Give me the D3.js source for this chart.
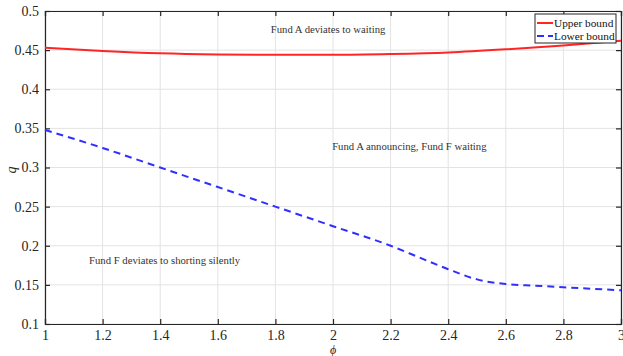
<!DOCTYPE html>
<html>
<head>
<meta charset="utf-8">
<script src="https://cdn.jsdelivr.net/npm/d3@7.9.0/dist/d3.min.js"></script>
<style>
  body { margin: 0; background: #fff; }
  svg text { font-family: "Liberation Serif", "Times New Roman", Times, "DejaVu Serif", serif !important; }
</style>
</head>
<body>
<svg id="chart" width="623" height="356"></svg>
<script>
const phiUpper = [1, 1.2, 1.4, 1.6, 1.8, 2.0, 2.2, 2.4, 2.6, 2.8, 3.0];
const upperBound = [0.453, 0.449, 0.446, 0.4445, 0.444, 0.444, 0.445, 0.447, 0.451, 0.456, 0.462];
const phiLower = [1, 1.2, 1.4, 1.6, 1.8, 2.0, 2.2, 2.3, 2.4, 2.5, 2.6, 2.7, 2.8, 2.9, 3.0];
const lowerBound = [0.348, 0.325, 0.30, 0.275, 0.25, 0.225, 0.2, 0.185, 0.170, 0.157, 0.151, 0.149, 0.147, 0.145, 0.143];
const xTicks = [1, 1.2, 1.4, 1.6, 1.8, 2, 2.2, 2.4, 2.6, 2.8, 3];
const yTicks = [0.1, 0.15, 0.2, 0.25, 0.3, 0.35, 0.4, 0.45, 0.5];
const regionLabels = [
  { text: "Fund A deviates to waiting", phi: 1.983, q: 0.4713, anchor: "middle" },
  { text: "Fund A announcing, Fund F waiting", phi: 1.997, q: 0.3224, anchor: "start" },
  { text: "Fund F deviates to shorting silently", phi: 1.153, q: 0.1767, anchor: "start" }
];

const svg = d3.select('#chart');
const padL = 45, padR = 621, padT = 11, padB = 324;
const x = d3.scaleLinear().domain([1, 3]).range([padL, padR]);
const y = d3.scaleLinear().domain([0.1, 0.5]).range([padB, padT]);
const axisColor = '#262626';

// grid
svg.append('g').selectAll('line').data(xTicks).join('line')
  .attr('x1', d => x(d)).attr('x2', d => x(d))
  .attr('y1', padT).attr('y2', padB)
  .attr('stroke', '#e3e3e3').attr('stroke-width', 1);
svg.append('g').selectAll('line').data(yTicks).join('line')
  .attr('x1', padL).attr('x2', padR)
  .attr('y1', d => y(d)).attr('y2', d => y(d))
  .attr('stroke', '#e3e3e3').attr('stroke-width', 1);

// axes (ticks inward, box on)
let xAxis = svg.append('g').attr('transform', `translate(0,${padB})`)
  .call(d3.axisBottom(x).tickValues(xTicks).tickSize(-5).tickPadding(6).tickFormat(d3.format('')));
let xTop = svg.append('g').attr('transform', `translate(0,${padT})`)
  .call(d3.axisTop(x).tickValues(xTicks).tickSize(-5).tickFormat(''));
let yAxis = svg.append('g').attr('transform', `translate(${padL},0)`)
  .call(d3.axisLeft(y).tickValues(yTicks).tickSize(-5).tickPadding(6).tickFormat(d3.format('')));
let yRight = svg.append('g').attr('transform', `translate(${padR},0)`)
  .call(d3.axisRight(y).tickValues(yTicks).tickSize(-5).tickFormat(''));
[xAxis, xTop, yAxis, yRight].forEach(g => {
  g.attr('font-family', null);
  g.select('.domain').attr('stroke', axisColor).attr('stroke-width', 1.2);
  g.selectAll('.tick line').attr('stroke', axisColor).attr('stroke-width', 1.2);
  g.selectAll('.tick text').attr('fill', axisColor).style('font-size', '14px');
});

// lines
const lineGen = d3.line().x(d => x(d[0])).y(d => y(d[1])).curve(d3.curveMonotoneX);
svg.append('path')
  .datum(d3.zip(phiUpper, upperBound))
  .attr('d', lineGen).attr('fill', 'none')
  .attr('stroke', '#ff2525').attr('stroke-width', 2);
svg.append('path')
  .datum(d3.zip(phiLower, lowerBound))
  .attr('d', lineGen).attr('fill', 'none')
  .attr('stroke', '#2f2fff').attr('stroke-width', 2)
  .attr('stroke-dasharray', '7,5');

// region labels
svg.append('g').selectAll('text').data(regionLabels).join('text')
  .attr('x', d => x(d.phi)).attr('y', d => y(d.q))
  .attr('text-anchor', d => d.anchor)
  .attr('fill', '#333')
  .style('font-size', '10.7px')
  .text(d => d.text);

// axis labels
svg.append('text')
  .attr('x', 333).attr('y', 354)
  .attr('text-anchor', 'middle').attr('fill', axisColor)
  .style('font-size', '12px').style('font-style', 'italic')
  .text('ϕ');
svg.append('text')
  .attr('transform', 'translate(16,170) rotate(-90)')
  .attr('text-anchor', 'middle').attr('fill', axisColor)
  .style('font-size', '14px').style('font-style', 'italic')
  .text('q');

// legend
const legend = svg.append('g').attr('transform', 'translate(535,14)');
legend.append('rect').attr('width', 81).attr('height', 29)
  .attr('fill', '#fff').attr('stroke', axisColor).attr('stroke-width', 1);
const legendItems = [
  { label: 'Upper bound', color: '#ff2525', dash: null },
  { label: 'Lower bound', color: '#2f2fff', dash: '7,4' }
];
legendItems.forEach((d, i) => {
  const row = legend.append('g').attr('transform', `translate(0,${9 + i * 13})`);
  row.append('line').attr('x1', 2).attr('x2', 18).attr('y1', 0).attr('y2', 0)
    .attr('stroke', d.color).attr('stroke-width', 2)
    .attr('stroke-dasharray', d.dash);
  row.append('text').attr('x', 19).attr('y', 4)
    .attr('fill', '#111').style('font-size', '11.3px').text(d.label);
});
</script>
</body>
</html>
